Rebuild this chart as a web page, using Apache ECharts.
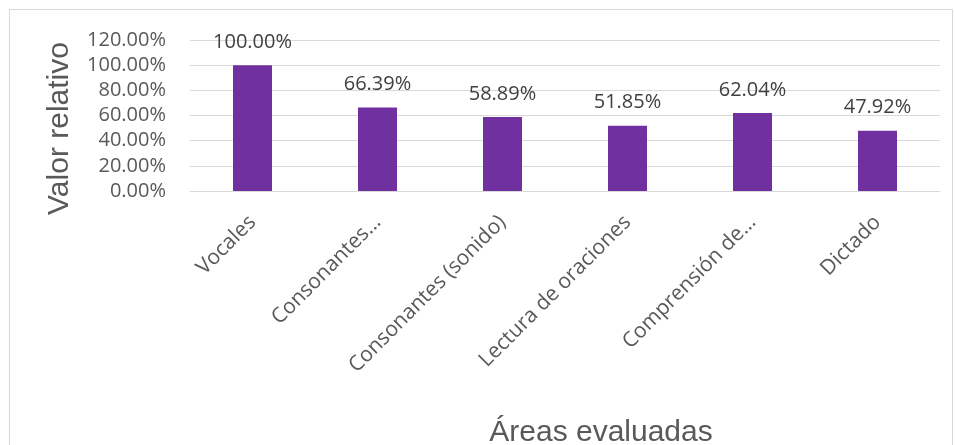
<!DOCTYPE html>
<html><head><meta charset="utf-8">
<script src="https://cdn.jsdelivr.net/npm/echarts@6/dist/echarts.min.js"></script>
<style>html,body{margin:0;padding:0;background:#fff}#c{width:955px;height:445px}
#frame{position:absolute;left:9px;top:9px;width:942px;height:440px;border:1px solid #d9d9d9;pointer-events:none}</style>
</head><body><div id="c"></div><div id="frame"></div>
<script>
const categories = ["Vocales", "Consonantes…", "Consonantes (sonido)", "Lectura de oraciones", "Comprensión de…", "Dictado"];
const values = [100.00, 66.39, 58.89, 51.85, 62.04, 47.92];
const yTicks = [0, 20, 40, 60, 80, 100, 120];

const chart = echarts.init(document.getElementById('c'));
chart.setOption({
  animation: false,
  grid: {left: 190, right: 15, top: 40, bottom: 254, containLabel: false, outerBoundsMode: 'none'},
  xAxis: {
    type: 'category', data: categories,
    axisLine: {lineStyle: {color: '#d9d9d9', width: 1}},
    axisTick: {show: false},
    axisLabel: {rotate: 45, interval: 0, color: '#595959', fontFamily: 'Open Sans', fontSize: 21, margin: 28},
    name: 'Áreas evaluadas', nameLocation: 'middle', nameGap: 227,
    nameTextStyle: {color: '#595959', fontFamily: 'Liberation Sans', fontSize: 30, padding: [0, 0, 0, 72]}
  },
  yAxis: {
    type: 'value', min: yTicks[0], max: yTicks[yTicks.length - 1], interval: 20,
    axisLine: {show: false}, axisTick: {show: false},
    splitLine: {lineStyle: {color: '#d9d9d9', width: 1}},
    axisLabel: {formatter: v => v.toFixed(2) + '%', color: '#595959', fontFamily: 'Open Sans', fontSize: 20, margin: 24},
    name: 'Valor relativo', nameLocation: 'middle', nameGap: 115, nameRotate: 90,
    nameTextStyle: {color: '#595959', fontFamily: 'Liberation Sans', fontSize: 30, padding: [0, 26, 0, 0]}
  },
  series: [{
    type: 'bar', data: values, barWidth: 39,
    itemStyle: {color: '#7030a0'},
    label: {show: true, position: 'top', distance: 13, formatter: p => p.value.toFixed(2) + '%', color: '#404040', fontFamily: 'Open Sans', fontSize: 20}
  }]
});
</script></body></html>
